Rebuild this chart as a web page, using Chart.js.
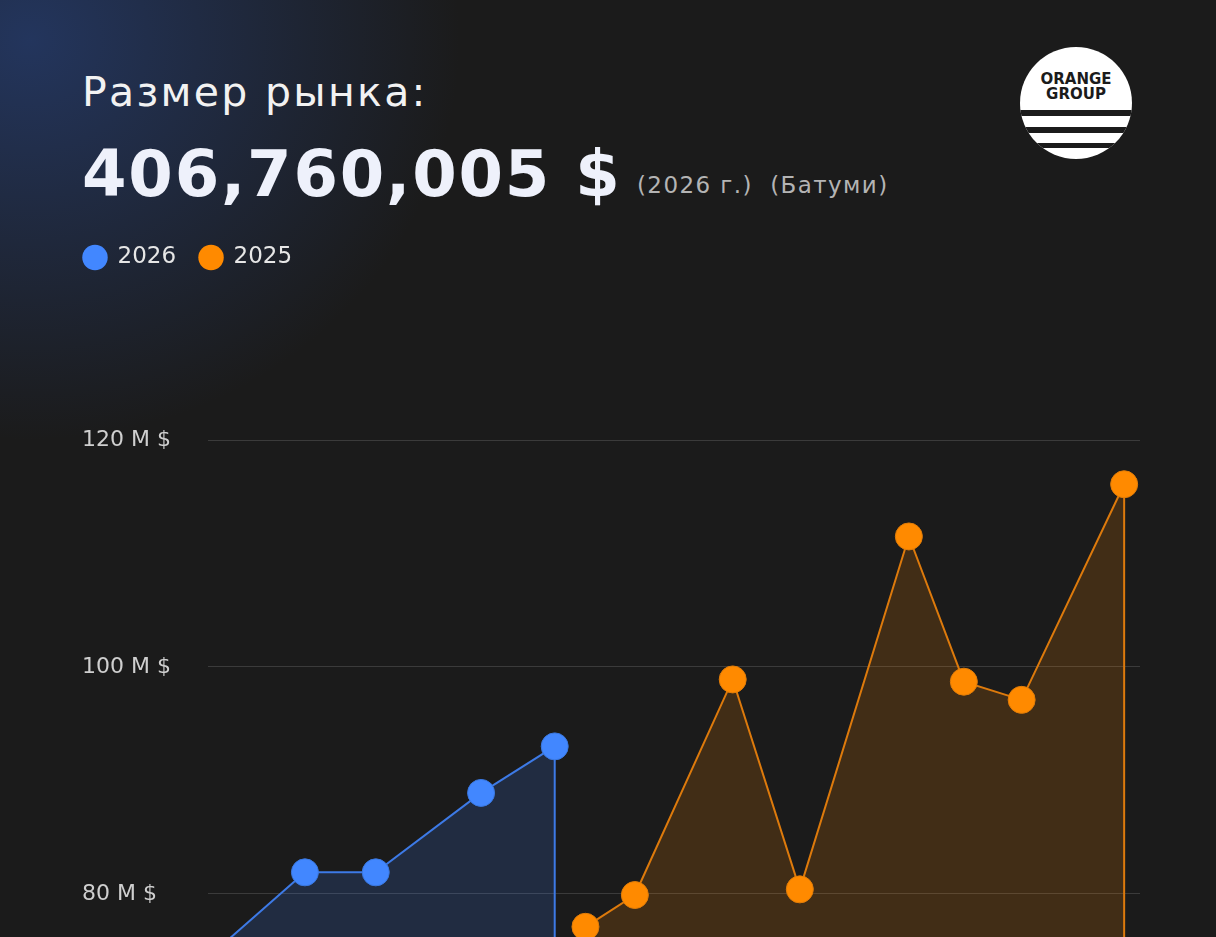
<!DOCTYPE html>
<html>
<head>
<meta charset="utf-8">
<script src="https://cdn.jsdelivr.net/npm/chart.js@4/dist/chart.umd.min.js"></script>
<style>
  html, body { margin: 0; padding: 0; }
  body {
    width: 1216px; height: 937px; overflow: hidden; position: relative;
    background: #1b1b1b;
    font-family: "DejaVu Sans", sans-serif;
  }
  .glow {
    position: absolute; left: 0; top: 0; width: 1216px; height: 937px;
    background: radial-gradient(ellipse 430px 400px at 30px 40px, rgba(38, 62, 115, 0.75), rgba(38, 62, 115, 0) 100%);
  }
  .title { position: absolute; left: 82px; top: 68px; color: #f2f2f2; font-size: 41px; letter-spacing: 2.3px; white-space: nowrap; }
  .big { position: absolute; left: 82px; top: 137px; color: #eef1fb; font-size: 64px; font-weight: bold; letter-spacing: 1.8px; white-space: nowrap; }
  .sub { position: absolute; left: 637px; top: 172px; color: #b4b4b4; font-size: 23px; letter-spacing: 1.4px; white-space: pre; }
  .logo { position: absolute; left: 1018px; top: 45px; }
  .wrap { position: absolute; left: 0; top: 0; width: 1216px; height: 1364px; }
</style>
</head>
<body>
<div class="glow"></div>
<div class="title">Размер рынка:</div>
<div class="big">406,760,005 $</div>
<div class="sub">(2026 г.)  (Батуми)</div>
<svg class="logo" width="116" height="116" viewBox="0 0 116 116">
  <defs><clipPath id="c"><circle cx="58" cy="58" r="56"/></clipPath></defs>
  <g clip-path="url(#c)">
    <rect x="0" y="0" width="116" height="116" fill="#ffffff"/>
    <rect x="0" y="65" width="116" height="6" fill="#1b1b1b"/>
    <rect x="0" y="82" width="116" height="6" fill="#1b1b1b"/>
    <rect x="0" y="98" width="116" height="5" fill="#1b1b1b"/>
  </g>
  <text x="58" y="39" text-anchor="middle" font-family="DejaVu Sans" font-weight="bold" font-size="15" fill="#1b1b1b">ORANGE</text>
  <text x="58" y="54" text-anchor="middle" font-family="DejaVu Sans" font-weight="bold" font-size="15" fill="#1b1b1b">GROUP</text>
</svg>
<div class="wrap"><canvas id="myChart"></canvas></div>
<script>
// series labels
var seriesNames = ["2026", "2025"];

// positions along the (hidden) time axis, 0..100
var x2026 = [0, 10.4, 18.0, 29.3, 37.2];
var y2026 = [74.4, 81.9, 81.9, 88.9, 93.0];

var x2025 = [40.5, 45.8, 56.3, 63.5, 75.2, 81.1, 87.3, 98.3];
var y2025 = [77.1, 79.9, 98.9, 80.4, 111.5, 98.7, 97.1, 116.1];

// y ticks in millions
var yTicks = [40, 60, 80, 100, 120];

var yMin = yTicks[0];
var yMax = yTicks[yTicks.length - 1];

// each series ends with a vertical drop to the bottom of the axis
function toPoints(xs, ys) {
  var pts = xs.map(function (x, i) { return { x: x, y: ys[i] }; });
  pts.push({ x: xs[xs.length - 1], y: yMin });
  return pts;
}

function radius(ctx) {
  return ctx.dataIndex === ctx.dataset.data.length - 1 ? 0 : 13.5;
}

var legendTweak = {
  id: "legendTweak",
  beforeInit: function (chart) {
    var fit = chart.legend.fit;
    chart.legend.fit = function () {
      fit.bind(chart.legend)();
      this.height = 440 - 20;
    };
  },
  afterLayout: function (chart) {
    chart.legend.left = 60;
    chart.legend.top = 222;
  }
};

new Chart("myChart", {
  type: "line",
  data: {
    datasets: [{
      label: seriesNames[0],
      data: toPoints(x2026, y2026),
      borderColor: "#3d7ae6",
      backgroundColor: "rgba(66, 133, 255, 0.17)",
      pointBackgroundColor: "#4287ff",
      pointBorderColor: "#3a78e0",
      pointBorderWidth: 1,
      borderWidth: 2,
      pointRadius: radius,
      pointHoverRadius: radius,
      fill: "start",
      tension: 0
    },
    {
      label: seriesNames[1],
      data: toPoints(x2025, y2025),
      borderColor: "#dd7a0c",
      backgroundColor: "rgba(255, 136, 0, 0.17)",
      pointBackgroundColor: "#ff8a00",
      pointBorderColor: "#e27d08",
      pointBorderWidth: 1,
      borderWidth: 2,
      pointRadius: radius,
      pointHoverRadius: radius,
      fill: "start",
      tension: 0
    }]
  },
  options: {
    responsive: true,
    maintainAspectRatio: false,
    animation: false,
    clip: false,
    layout: { padding: { top: 20, left: 82, right: 76, bottom: 0 } },
    scales: {
      x: {
        type: "linear",
        display: false,
        min: 0,
        max: 100
      },
      y: {
        min: yMin,
        max: yMax,
        afterFit: function (scale) { scale.width = 126; },
        afterBuildTicks: function (scale) {
          scale.ticks = yTicks.map(function (v) { return { value: v }; });
        },
        border: { display: false },
        grid: { color: "#3b3b3b", lineWidth: 1, drawTicks: false },
        ticks: {
          crossAlign: "far",
          color: "#cfcfcf",
          font: { family: "DejaVu Sans", size: 22 },
          callback: function (v) { return v + " M $"; }
        }
      }
    },
    plugins: {
      legend: {
        display: true,
        position: "top",
        align: "start",
        labels: {
          usePointStyle: true,
          pointStyle: "circle",
          boxWidth: 22,
          boxHeight: 18,
          padding: 24,
          color: "#e6e6e6",
          font: { family: "DejaVu Sans", size: 23 },
          generateLabels: function (chart) {
            return chart.data.datasets.map(function (ds, i) {
              return {
                text: ds.label,
                fillStyle: ds.pointBackgroundColor,
                strokeStyle: ds.pointBackgroundColor,
                lineWidth: 0,
                pointStyle: "circle",
                fontColor: "#e6e6e6",
                datasetIndex: i
              };
            });
          }
        }
      },
      tooltip: { enabled: false }
    }
  },
  plugins: [legendTweak]
});
</script>
</body>
</html>
